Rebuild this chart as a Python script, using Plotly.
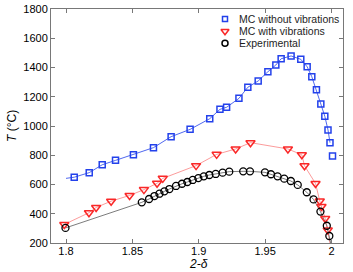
import plotly.graph_objects as go

# ---- data ----
blue_x = [1.8062, 1.8175, 1.8273, 1.8373, 1.8508, 1.8659, 1.8792, 1.8935, 1.9083, 1.9160,
          1.9210, 1.9303, 1.9370, 1.9448, 1.9521, 1.9581, 1.9621, 1.9696, 1.9769, 1.9817,
          1.9852, 1.9887, 1.9920, 1.9950, 1.9974, 1.9989, 2.0008]
blue_y = [650, 681, 735, 765, 804, 852, 927, 977, 1050, 1114,
          1128, 1189, 1265, 1308, 1371, 1417, 1460, 1479, 1456, 1405,
          1337, 1248, 1150, 1066, 973, 886, 795]

red_x = [1.7987, 1.8173, 1.8227, 1.8340, 1.8479, 1.8587, 1.8686, 1.8729, 1.8980, 1.9135,
         1.9278, 1.9390, 1.9672, 1.9777, 1.9797, 1.9880, 1.9912, 1.9925, 1.9953, 1.9972]
red_y = [327, 407, 443, 486, 525, 565, 608, 642, 729, 806,
         843, 886, 843, 803, 728, 607, 487, 450, 368, 289]

exp_x = [1.7996, 1.8571, 1.8626, 1.8666, 1.8704, 1.8741, 1.8779, 1.8829, 1.8874, 1.8914,
         1.8955, 1.8997, 1.9038, 1.9080, 1.9128, 1.9180, 1.9230, 1.9335, 1.9386, 1.9499,
         1.9544, 1.9594, 1.9644, 1.9694, 1.9746, 1.9814, 1.9865, 1.9917, 1.9965, 1.9984]
exp_y = [303, 478, 501, 521, 537, 553, 569, 590, 605, 617,
         631, 644, 656, 665, 672, 681, 688, 690, 690, 683,
         670, 656, 640, 624, 597, 547, 498, 415, 318, 248]

# fitted guide lines (start / end extensions of the curves)
blue_fit_x = [1.8000] + blue_x[:-1]
blue_fit_y = [642] + blue_y[:-1]
red_fit_x = red_x + [1.9988]
red_fit_y = red_y + [200]
exp_fit_x = exp_x + [1.9994]
exp_fit_y = exp_y + [200]

series_names = ["MC without vibrations", "MC with vibrations", "Experimental"]

x_ticks = [1.8, 1.85, 1.9, 1.95, 2.0]
x_tick_text = ["1.8", "1.85", "1.9", "1.95", "2"]
y_ticks = [200, 400, 600, 800, 1000, 1200, 1400, 1600, 1800]

BLUE = "rgb(35,65,235)"
RED = "rgb(250,40,40)"
RED_LINE = "rgb(250,130,130)"
BLACK = "rgb(0,0,0)"
GRAY_LINE = "rgb(90,90,90)"
AXIS_GRAY = "rgb(120,120,120)"
FONT = "Liberation Sans, Arial, sans-serif"

# plot area in pixels
L, R, T, B = 51, 343, 9, 243
W, H = 353, 272
PW, PH = R - L, B - T


def px_to_paper(px, py):
    return (px - L) / PW, (B - py) / PH


fig = go.Figure()

fig.add_trace(go.Scatter(x=blue_fit_x, y=blue_fit_y, mode="lines",
                         line=dict(color=BLUE, width=0.8), showlegend=False, hoverinfo="skip"))
fig.add_trace(go.Scatter(x=red_fit_x, y=red_fit_y, mode="lines",
                         line=dict(color=RED_LINE, width=0.8), showlegend=False, hoverinfo="skip"))
fig.add_trace(go.Scatter(x=exp_fit_x, y=exp_fit_y, mode="lines",
                         line=dict(color=GRAY_LINE, width=0.8), showlegend=False, hoverinfo="skip"))

fig.add_trace(go.Scatter(x=blue_x, y=blue_y, mode="markers", name=series_names[0], showlegend=False,
                         marker=dict(symbol="square-open", size=6, color=BLUE,
                                     line=dict(width=1.5, color=BLUE))))
fig.add_trace(go.Scatter(x=red_x, y=red_y, mode="markers", name=series_names[1], showlegend=False,
                         marker=dict(symbol="triangle-down-open", size=8, color=RED,
                                     line=dict(width=1.5, color=RED))))
fig.add_trace(go.Scatter(x=exp_x, y=exp_y, mode="markers", name=series_names[2], showlegend=False,
                         marker=dict(symbol="circle-open", size=7, color=BLACK,
                                     line=dict(width=1.3, color=BLACK))))

# ---- manual legend (layout helper axes in plot-area pixels) ----
leg_px_x = 225
leg_px_y = [19, 31.3, 43.3]
leg_symbols = ["square-open", "triangle-down-open", "circle-open"]
leg_colors = [BLUE, RED, BLACK]
leg_sizes = [5, 7, 6]
for sym, col, sz, py in zip(leg_symbols, leg_colors, leg_sizes, leg_px_y):
    fig.add_trace(go.Scatter(x=[leg_px_x], y=[py], mode="markers", xaxis="x2", yaxis="y2",
                             showlegend=False, hoverinfo="skip",
                             marker=dict(symbol=sym, size=sz, color=col, line=dict(width=1.5, color=col))))
for name, py in zip(series_names, leg_px_y):
    fig.add_annotation(x=237, y=py, xref="x2", yref="y2", text=name, showarrow=False,
                       xanchor="left", yanchor="middle",
                       font=dict(family=FONT, size=10.5, color="rgb(30,30,30)"))

# axis titles (paper coordinates)
xt_x, xt_y = px_to_paper(198, 264)
fig.add_annotation(x=xt_x, y=xt_y, xref="paper", yref="paper", text="<i>2-δ</i>", showarrow=False,
                   xanchor="center", yanchor="middle", font=dict(family=FONT, size=12, color="black"))
yt_x, yt_y = px_to_paper(12, 126)
fig.add_annotation(x=yt_x, y=yt_y, xref="paper", yref="paper", text="<i>T</i> (°C)", showarrow=False,
                   textangle=-90, xanchor="center", yanchor="middle",
                   font=dict(family=FONT, size=12, color="black"))

axis_common = dict(showgrid=False, zeroline=False, showline=True, linecolor=AXIS_GRAY,
                   linewidth=1, mirror="ticks", ticks="inside", ticklen=4,
                   tickcolor=AXIS_GRAY, automargin=False,
                   tickfont=dict(family=FONT, size=11, color="black"))

fig.update_layout(
    width=W, height=H,
    margin=dict(l=L, r=W - R, t=T, b=H - B),
    paper_bgcolor="white", plot_bgcolor="white",
    font=dict(family=FONT, size=11, color="black"),
    showlegend=False,
    xaxis=dict(range=[1.7887, 2.0087], tickvals=x_ticks, ticktext=x_tick_text,
               ticklabelstandoff=-2, **axis_common),
    yaxis=dict(range=[200, 1800], tickvals=y_ticks, **axis_common),
    xaxis2=dict(range=[L, R], overlaying="x", visible=False, fixedrange=True),
    yaxis2=dict(range=[B, T], overlaying="y", visible=False, fixedrange=True),
)

fig.write_html("out.html", config={"displayModeBar": False},
               post_script="document.body.style.margin='0px';document.body.style.overflow='hidden';")
